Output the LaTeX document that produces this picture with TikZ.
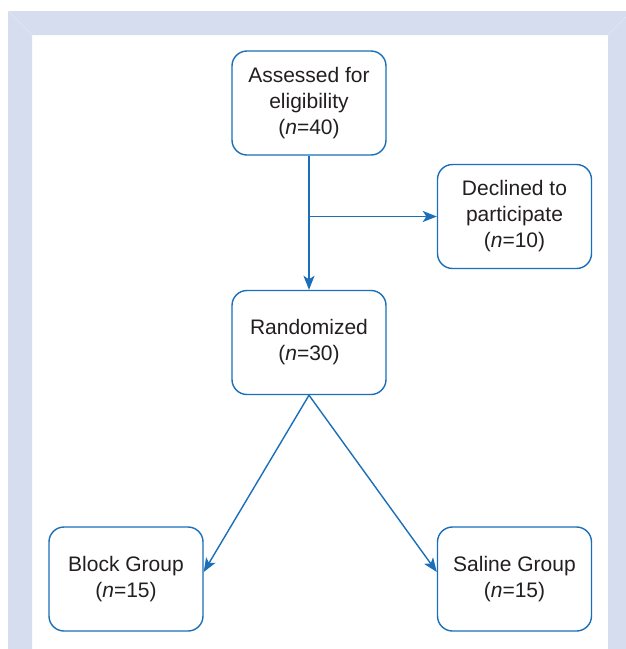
\documentclass[tikz,border=0pt]{standalone}
\usepackage{fontspec}
\setmainfont{Liberation Sans}
\usetikzlibrary{arrows.meta}
\definecolor{band}{HTML}{D5DDEE}
\definecolor{bandline}{HTML}{E3E8F4}
\definecolor{flow}{HTML}{1A6FB8}
\definecolor{ink}{HTML}{231F20}
\tikzset{
  box/.style={draw=flow, line width=1.4pt, rounded corners=15pt, minimum width=154pt, minimum height=104pt, align=center, text=ink, font=\fontsize{21}{26}\selectfont, inner sep=0pt},
  flowarrow/.style={draw=flow, line width=1.4pt, -{Stealth[length=14pt,width=11pt,inset=3.5pt]}},
}
\begin{document}
\begin{tikzpicture}[x=1pt,y=-1pt]
\useasboundingbox (0,0) rectangle (626,649);
\fill[white] (0,0) rectangle (626,649);
\fill[band, even odd rule] (8,11) rectangle (640,660) (32,35) rectangle (608,660);
\draw[bandline, line width=0.6pt] (8,11) -- (32,35);
\draw[bandline, line width=0.6pt] (632,11) -- (608,35);

\node[box] (A) at (309,103) {Assessed for\\eligibility\\(\textit{n}=40)};
\node[box] (D) at (514.5,216.5) {Declined to\\participate\\(\textit{n}=10)};
\node[box] (R) at (309,342.5) {Randomized\\(\textit{n}=30)};
\node[box] (B) at (126,579) {Block Group\\(\textit{n}=15)};
\node[box] (S) at (514.5,579) {Saline Group\\(\textit{n}=15)};

\coordinate (split) at (A.south |- D.west);
\draw[flowarrow] (A.south) -- (R.north);
\draw[flowarrow] (split) -- (D.west);
\draw[flowarrow] (R.south) -- ([yshift=7pt]B.east);
\draw[flowarrow] (R.south) -- ([yshift=7pt]S.west);
\end{tikzpicture}
\end{document}
